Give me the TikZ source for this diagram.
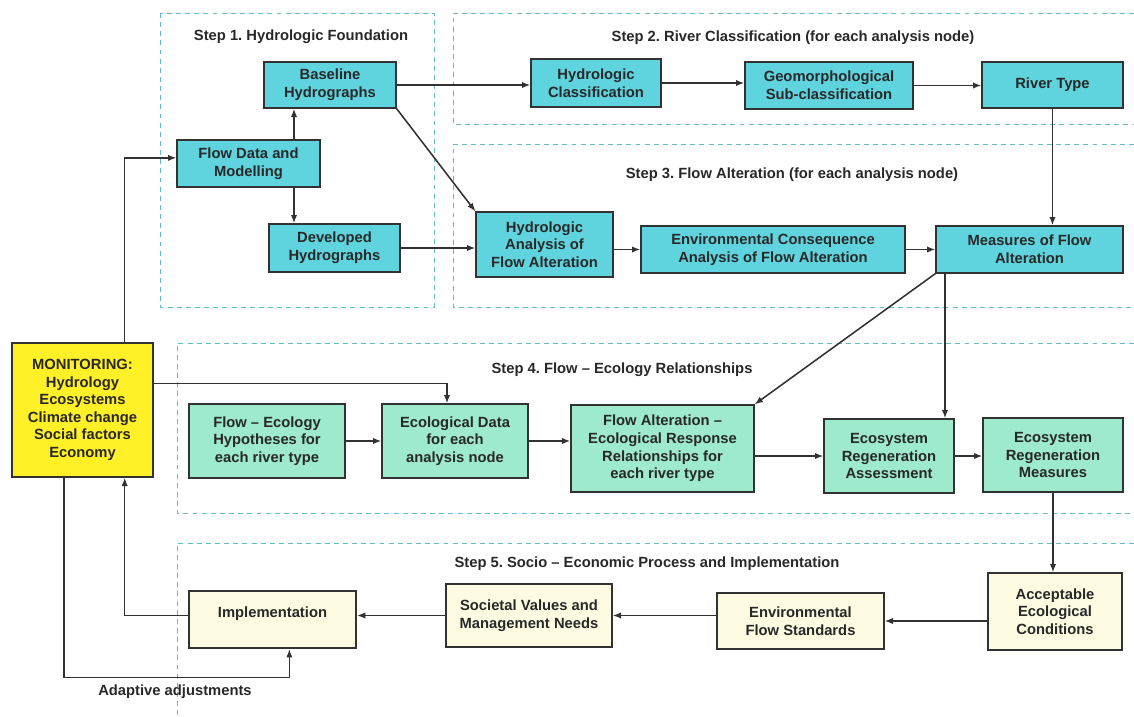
\documentclass[tikz,border=0pt]{standalone}
\usepackage{fontspec}
\setmainfont{Liberation Sans}
\usepackage{tikz}
\usetikzlibrary{arrows.meta}

\definecolor{hydcyan}{RGB}{96,212,222}
\definecolor{ecomint}{RGB}{158,234,204}
\definecolor{soccream}{RGB}{253,252,226}
\definecolor{monyellow}{RGB}{255,240,40}
\definecolor{dashblue}{RGB}{100,185,200}
\definecolor{linegray}{RGB}{50,50,50}
\definecolor{txtgray}{RGB}{40,40,40}

\begin{document}
\frenchspacing
\begin{tikzpicture}[x=0.025cm, y=-0.025cm, line width=1.1pt, >={Latex[length=6pt,width=4.5pt]}, draw=linegray,
	every node/.style={font=\fontsize{10.5}{12.5}\selectfont\bfseries, text=txtgray, align=center},
	sz/.style 2 args={minimum width=#1*0.025cm, minimum height=#2*0.025cm},
	box/.style={draw=linegray, line width=0.8pt, inner sep=1pt},
	hyd/.style={box, fill=hydcyan},
	eco/.style={box, fill=ecomint},
	soc/.style={box, fill=soccream},
	mon/.style={box, fill=monyellow},
	stepbox/.style={draw=dashblue, line width=0.7pt, dash pattern=on 3.5pt off 3pt}]
	\useasboundingbox (0,0) rectangle (1134,717);
	
	% step frames
	\draw[stepbox] (160,13) rectangle (434,307);
	\draw[stepbox] (1134,13) -- (453,13) -- (453,124) -- (1134,124);
	\draw[stepbox] (1134,144) -- (453,144) -- (453,307) -- (1134,307);
	\draw[stepbox] (1134,343) -- (177,343) -- (177,513) -- (1134,513);
	\draw[stepbox] (1134,543) -- (177,543) -- (177,717);
	
	\node (s1) at (301,37) {Step 1. Hydrologic Foundation};
	\node (s2) at (793,38) {Step 2. River Classification (for each analysis node)};
	\node (s3) at (792,175) {Step 3. Flow Alteration (for each analysis node)};
	\node (s4) at (622,370) {Step 4. Flow – Ecology Relationships};
	\node (s5) at (647,564) {Step 5. Socio – Economic Process and Implementation};
	
	\node[hyd, sz={143}{47}] (1) at (248.5,163.5) {Flow Data and\\Modelling};
	\node[hyd, sz={132}{46}] (2) at (330,85) {Baseline\\Hydrographs};
	\node[hyd, sz={131}{48}] (3) at (334.5,248) {Developed\\Hydrographs};
	\node[hyd, sz={130}{48}] (4) at (596,83) {Hydrologic\\Classification};
	\node[hyd, sz={168}{47}] (5) at (829,85.5) {Geomorphological\\Sub-classification};
	\node[hyd, sz={141}{46}] (6) at (1052.5,85) {River Type};
	\node[hyd, sz={137}{65}] (7) at (544.5,244.5) {Hydrologic\\Analysis of\\Flow Alteration};
	\node[hyd, sz={264}{47}] (8) at (773,249.5) {Environmental Consequence\\Analysis of Flow Alteration};
	\node[hyd, sz={187}{47}] (9) at (1029.5,249.5) {Measures of Flow\\Alteration};
	\node[mon, sz={141}{134}] (10) at (82.5,410) {MONITORING:\\Hydrology\\Ecosystems\\Climate change\\Social factors\\Economy};
	\node[eco, sz={156}{74}] (11) at (267,441) {Flow – Ecology\\Hypotheses for\\each river type};
	\node[eco, sz={146}{74}] (12) at (455,441) {Ecological Data\\for each\\analysis node};
	\node[eco, sz={183}{87}] (13) at (662.5,448.5) {Flow Alteration –\\Ecological Response\\Relationships for\\each river type};
	\node[eco, sz={130}{74}] (14) at (889,456) {Ecosystem\\Regeneration\\Assessment};
	\node[eco, sz={140}{74}] (15) at (1053,455) {Ecosystem\\Regeneration\\Measures};
	\node[soc, sz={134}{77}] (16) at (1055,611.5) {Acceptable\\Ecological\\Conditions};
	\node[soc, sz={167}{56}] (17) at (800.5,621) {Environmental\\Flow Standards};
	\node[soc, sz={166}{63}] (18) at (529,615.5) {Societal Values and\\Management Needs};
	\node[soc, sz={167}{57}, line width=1.4pt] (19) at (272.5,619.5) {Implementation\\[-2pt]};
	\node (20) at (175,692) {Adaptive adjustments};
	
	\draw[->] ([xshift=30pt]10.north) |- ([yshift=4pt]1.west);
	\draw[->] (1.north -| 294,0) -- (2.south -| 294,0);
	\draw[->] (1.south -| 294,0) -- (3.north -| 294,0);
	\draw[->] (2.east) -- (2.east -| 4.west);
	\draw[->] (2.south east) -- (7.north west);
	\draw[->] (3.east) -- (3.east -| 7.west);
	\draw[->] (4.east) -- (4.east -| 5.west);
	\draw[->] (5.east) -- (5.east -| 6.west);
	\draw[->] (6.south) -- (6.south |- 9.north);
	\draw[->] (8.west -| 7.east) -- (8.west);
	\draw[->] (8.east) -- (9.west);
	\draw[->] (9.south west) -- (13.north east);
	\draw[->] (9.south -| 945,0) -- (14.north -| 945,0);
	\draw[->] ([yshift=19pt]10.east) -| ([xshift=-5.7pt]12.north);
	\draw[->] (11.east) -- (12.west);
	\draw[->] (12.east) -- (12.east -| 13.west);
	\draw[->] (14.west -| 13.east) -- (14.west);
	\draw[->] (14.east) -- (14.east -| 15.west);
	\draw[->] (15.south) -- (15.south |- 16.north);
	\draw[->] (17.east -| 16.west) -- (17.east);
	\draw[->] (18.east -| 17.west) -- (18.east);
	\draw[->] (18.west) -- (18.west -| 19.east);
	\draw[->] ([yshift=3pt]19.west) -| ([xshift=30pt]10.south);
	\draw[->] ([xshift=-13pt]10.south) -- ++(0,200) -| ([xshift=12pt]19.south);
\end{tikzpicture}
\end{document}
